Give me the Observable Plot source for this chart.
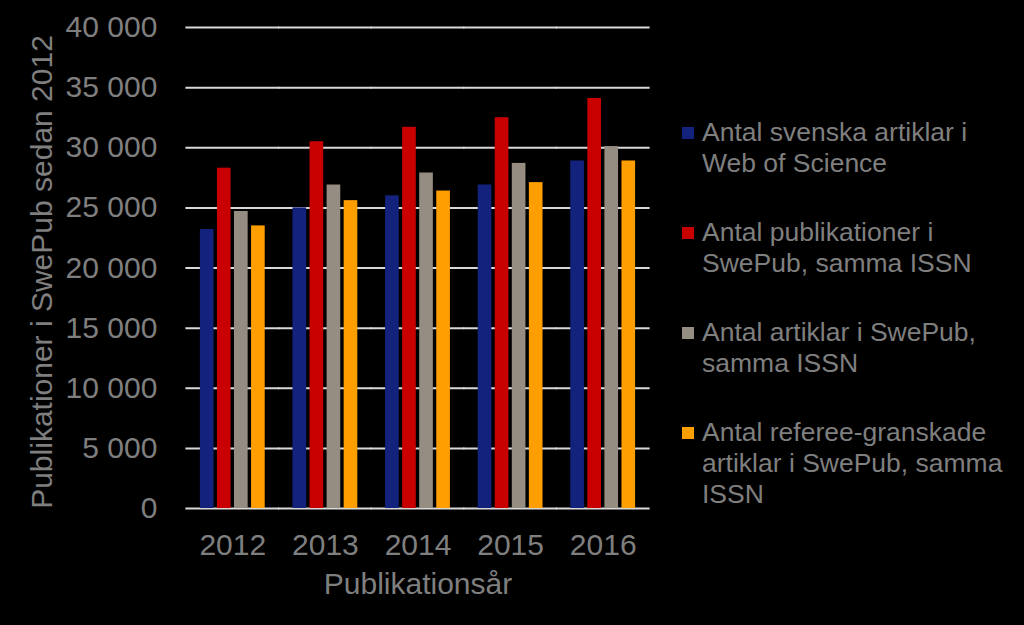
<!DOCTYPE html>
<html>
<head>
<meta charset="utf-8">
<script src="https://cdn.jsdelivr.net/npm/d3@7"></script>
<script src="https://cdn.jsdelivr.net/npm/@observablehq/plot@0.6"></script>
<style>
  html, body { margin: 0; padding: 0; background: #000; }
  #wrap { position: relative; width: 1024px; height: 625px; overflow: hidden; background: #000; font-family: "Liberation Sans", Arial, sans-serif; }
  #legend { position: absolute; left: 682px; top: 117px; color: #7f7f7f; font-size: 26.5px; line-height: 31px; }
  .item { position: relative; padding-left: 20px; height: 62px; margin-bottom: 38px; }
  .sw { position: absolute; left: 0; top: 10px; width: 12px; height: 12px; }
</style>
</head>
<body>
<div id="wrap"><div id="chart"></div><div id="legend"></div></div>
<script>
const years = ["2012", "2013", "2014", "2015", "2016"];
const seriesNames = [
  "Antal svenska artiklar i\nWeb of Science",
  "Antal publikationer i\nSwePub, samma ISSN",
  "Antal artiklar i SwePub,\nsamma ISSN",
  "Antal referee-granskade\nartiklar i SwePub, samma\nISSN"
];
const seriesColors = ["#13237d", "#c80000", "#958d81", "#ff9e00"];
const wos      = [23200, 25000, 26000, 26900, 28900];
const swepub   = [28300, 30500, 31700, 32500, 34100];
const articles = [24700, 26900, 27900, 28700, 30100];
const referee  = [23500, 25600, 26400, 27100, 28900];
const yTicks = [0, 5000, 10000, 15000, 20000, 25000, 30000, 35000, 40000];
const yTitle = "Publikationer i SwePub sedan 2012";
const xTitle = "Publikationsår";

const allSeries = [wos, swepub, articles, referee];
const data = [];
years.forEach((yr, i) => {
  allSeries.forEach((s, k) => data.push({year: yr, series: seriesNames[k], value: s[i]}));
});

const fmt = v => d3.format(",")(v).replace(/,/g, " ");

const plot = Plot.plot({
  width: 1024,
  height: 625,
  marginLeft: 186,
  marginRight: 375,
  marginTop: 27,
  marginBottom: 117,
  style: {background: "#000", color: "#7f7f7f", fontFamily: "Liberation Sans, Arial, sans-serif", fontSize: "30px"},
  fx: {domain: years, paddingInner: 0.3, paddingOuter: 0.15, round: false, tickSize: 0, tickPadding: 25, label: null},
  x: {domain: seriesNames, axis: null, paddingInner: 0.2, paddingOuter: 0, round: false},
  y: {domain: [0, 40000], ticks: yTicks, tickFormat: fmt, tickSize: 0, tickPadding: 43, label: null},
  color: {domain: seriesNames, range: seriesColors},
  marks: [
    Plot.ruleY(yTicks, {stroke: "#d9d9d9", strokeWidth: 2, insetLeft: -14.5, insetRight: -14.5}),
    Plot.barY(data, {fx: "year", x: "series", y: "value", fill: "series"}),
    Plot.text([yTitle], {frameAnchor: "left", textAnchor: "middle", lineAnchor: "middle", dx: -158, dy: 4, rotate: -90, fontSize: 30, fill: "#7f7f7f", facet: "super"}),
    Plot.text([xTitle], {frameAnchor: "bottom", dy: 85, fontSize: 30, fill: "#7f7f7f", facet: "super"})
  ]
});
document.getElementById("chart").appendChild(plot);

const legend = document.getElementById("legend");
seriesNames.forEach((name, k) => {
  const item = document.createElement("div");
  item.className = "item";
  const sw = document.createElement("div");
  sw.className = "sw";
  sw.style.background = seriesColors[k];
  item.appendChild(sw);
  const t = document.createElement("div");
  t.style.whiteSpace = "pre";
  t.textContent = name;
  item.appendChild(t);
  legend.appendChild(item);
});
</script>
</body>
</html>
